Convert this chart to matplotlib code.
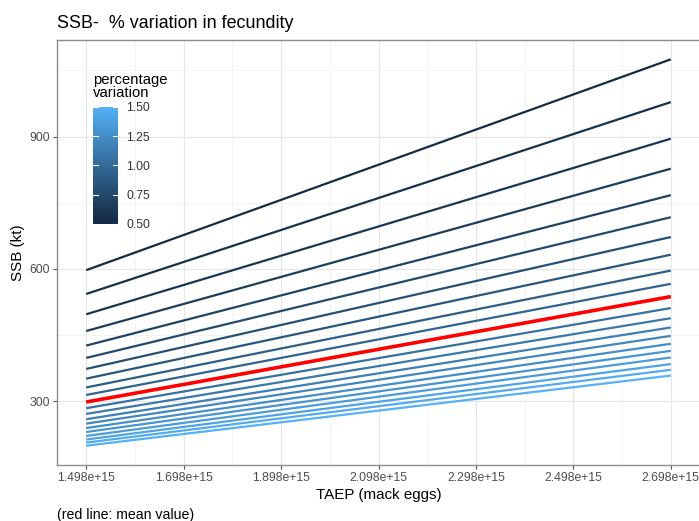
import numpy as np
import matplotlib
matplotlib.use('Agg')
import matplotlib.pyplot as plt
from matplotlib.colors import ListedColormap

plt.rcParams['font.family'] = ['Liberation Sans', 'DejaVu Sans']

# data
taep = [1.498e15, 2.698e15]
pct = [0.50, 0.55, 0.60, 0.65, 0.70, 0.75, 0.80, 0.85, 0.90, 0.95, 1.00,
       1.05, 1.10, 1.15, 1.20, 1.25, 1.30, 1.35, 1.40, 1.45, 1.50]
ssb_start = [597, 543, 497, 459, 426, 398, 373, 351, 331, 314, 298,
             284, 271, 259, 249, 239, 230, 221, 213, 206, 199]
ssb_end = [1075, 978, 895, 827, 767, 717, 672, 632, 596, 566, 537,
           511, 488, 467, 448, 430, 414, 399, 384, 371, 358]
mean_pct = 1.00
xticks = [1.498e15, 1.698e15, 1.898e15, 2.098e15, 2.298e15, 2.498e15, 2.698e15]
xticklabels = ["1.498e+15", "1.698e+15", "1.898e+15", "2.098e+15", "2.298e+15", "2.498e+15", "2.698e+15"]
yticks = [300, 600, 900]
cbar_ticks = [0.50, 0.75, 1.00, 1.25, 1.50]


def srgb2lab(c):
    c = np.array(c, dtype=float)
    c = np.where(c > 0.04045, ((c + 0.055) / 1.055) ** 2.4, c / 12.92)
    M = np.array([[0.4124, 0.3576, 0.1805], [0.2126, 0.7152, 0.0722], [0.0193, 0.1192, 0.9505]])
    xyz = M.dot(c) / np.array([0.95047, 1.0, 1.08883])
    f = np.where(xyz > 0.008856, np.cbrt(xyz), 7.787 * xyz + 16.0 / 116)
    return np.array([116 * f[1] - 16, 500 * (f[0] - f[1]), 200 * (f[1] - f[2])])


def lab2srgb(lab):
    fy = (lab[0] + 16) / 116.0
    fx = fy + lab[1] / 500.0
    fz = fy - lab[2] / 200.0
    f = np.array([fx, fy, fz])
    xyz = np.where(f ** 3 > 0.008856, f ** 3, (f - 16.0 / 116) / 7.787) * np.array([0.95047, 1.0, 1.08883])
    Minv = np.linalg.inv(np.array([[0.4124, 0.3576, 0.1805], [0.2126, 0.7152, 0.0722], [0.0193, 0.1192, 0.9505]]))
    c = Minv.dot(xyz)
    c = np.where(c > 0.0031308, 1.055 * np.abs(c) ** (1 / 2.4) - 0.055, 12.92 * c)
    return np.clip(c, 0, 1)


low = srgb2lab(matplotlib.colors.to_rgb("#132B43"))
high = srgb2lab(matplotlib.colors.to_rgb("#56B1F7"))
cmap = ListedColormap([lab2srgb(low + (high - low) * t) for t in np.linspace(0, 1, 256)])


def col(p):
    return cmap((p - 0.5) / 1.0)


fig = plt.figure(figsize=(6.99, 5.21), dpi=100)
ax = fig.add_axes([57 / 699., 56 / 521., 643 / 699., 425 / 521.])

for i in range(len(pct)):
    if pct[i] == mean_pct:
        continue
    ax.plot(taep, [ssb_start[i], ssb_end[i]], color=col(pct[i]), lw=1.6, solid_capstyle='butt', zorder=3)
i = pct.index(mean_pct)
ax.plot(taep, [ssb_start[i], ssb_end[i]], color='red', lw=2.6, solid_capstyle='butt', zorder=4)

xr = taep[1] - taep[0]
ax.set_xlim(taep[0] - 0.05 * xr, taep[1] + 0.05 * xr)
yr = max(ssb_end) - min(ssb_start)
ax.set_ylim(min(ssb_start) - 0.05 * yr, max(ssb_end) + 0.05 * yr)

ax.set_xticks(xticks)
ax.set_xticklabels(xticklabels)
ax.set_yticks(yticks)
ax.set_xticks([x + 0.1e15 for x in xticks[:-1]], minor=True)
ax.set_yticks([450, 750, 1050], minor=True)
ax.grid(which='major', color='#E6E6E6', lw=0.8, zorder=0)
ax.grid(which='minor', color='#F2F2F2', lw=0.6, zorder=0)
ax.set_axisbelow(True)
ax.tick_params(which='major', length=3, width=0.8, color='#555555', labelsize=8.8, labelcolor='#4D4D4D', pad=2)
ax.tick_params(which='minor', length=0)
for s in ax.spines.values():
    s.set_color('#8C8C8C')
    s.set_linewidth(1.0)
ax.spines['right'].set_visible(False)

ax.set_xlabel("TAEP (mack eggs)", fontsize=10.9, labelpad=3)
ax.set_ylabel("SSB (kt)", fontsize=10.9, labelpad=3)
fig.text(57 / 699., 1 - 28 / 521., "SSB-  % variation in fecundity", fontsize=12.9, va='baseline')
fig.text(57 / 699., 1 - 519 / 521., "(red line: mean value)", fontsize=10.2, va='baseline')

# colour bar legend inside the panel
cax = fig.add_axes([93 / 699., 1 - 224 / 521., 25 / 699., 117 / 521.])
grad = np.linspace(0.5, 1.5, 100).reshape(-1, 1)
cax.imshow(grad, cmap=cmap, aspect='auto', origin='lower', extent=[0, 1, 0.5, 1.5], vmin=0.5, vmax=1.5)
for t in cbar_ticks:
    cax.plot([0, 0.2], [t, t], color='white', lw=0.8)
    cax.plot([0.8, 1], [t, t], color='white', lw=0.8)
cax.set_xlim(0, 1)
cax.set_ylim(0.5, 1.5)
cax.set_xticks([])
cax.yaxis.tick_right()
cax.set_yticks(cbar_ticks)
cax.set_yticklabels(["%.2f" % t for t in cbar_ticks])
cax.tick_params(length=0, labelsize=8.8, labelcolor='#333333', pad=6)
for s in cax.spines.values():
    s.set_visible(False)
fig.text(93 / 699., 1 - 97 / 521., "percentage\nvariation", fontsize=10.7, va='baseline', linespacing=0.95)

fig.savefig("out.png", dpi=100)
